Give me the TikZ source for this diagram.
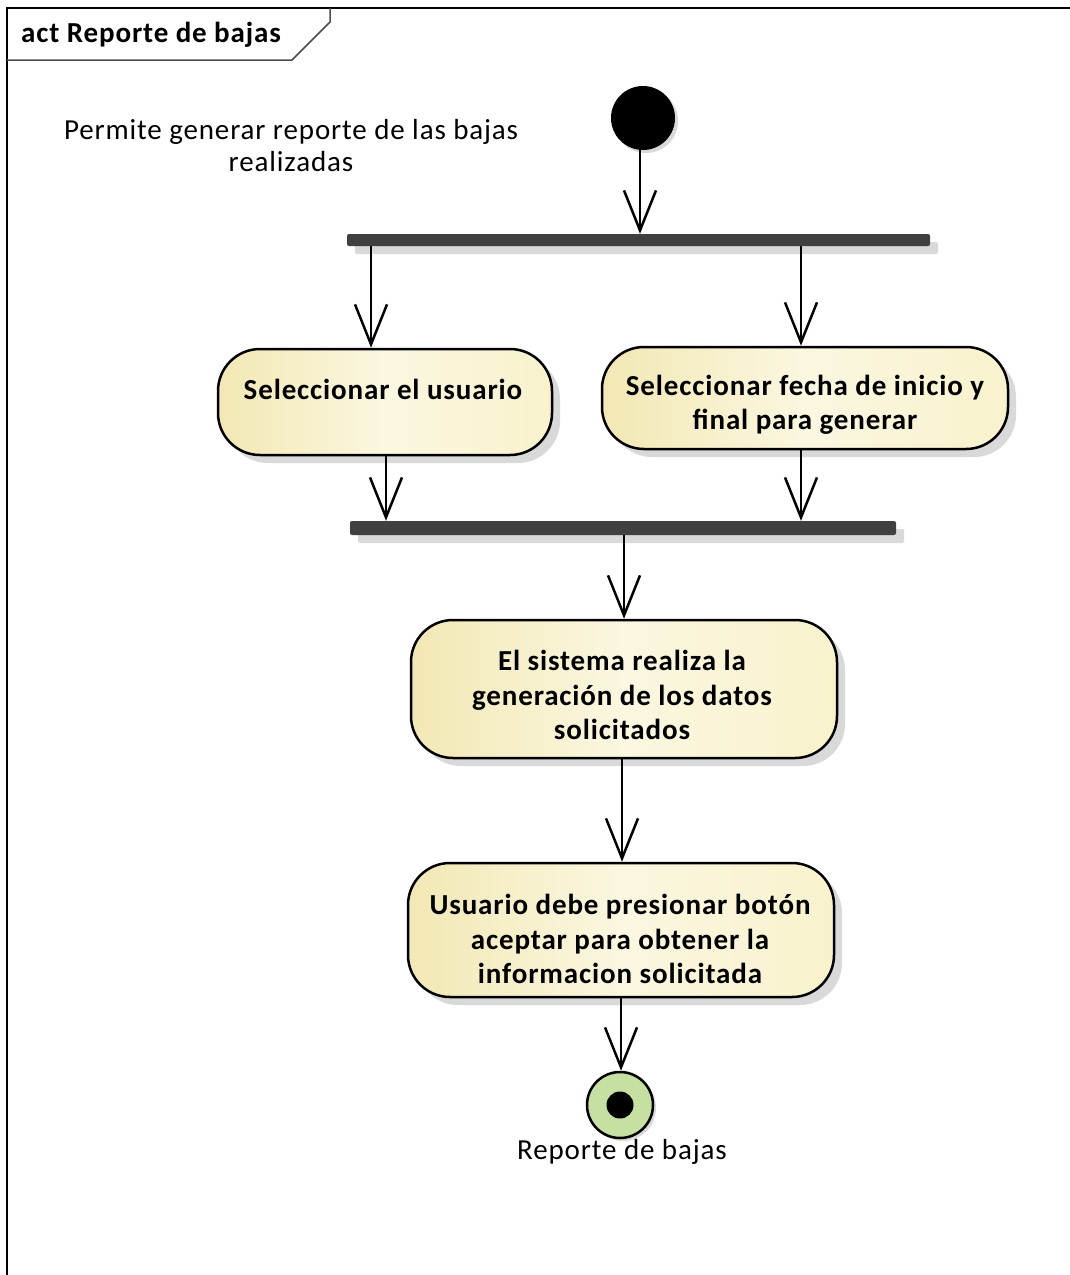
\documentclass[tikz,border=0pt]{standalone}
\usepackage{fontspec}
\setmainfont{Carlito}[LetterSpace=3]
\usetikzlibrary{arrows.meta,shadows,positioning}
\definecolor{actfill}{HTML}{F8F2CC}
\definecolor{actfillL}{HTML}{F2E8B4}
\definecolor{barcol}{HTML}{404040}
\definecolor{shadowcol}{HTML}{D9D9D9}
\definecolor{finfill}{HTML}{C5E0A0}
\tikzset{
  action/.style={draw=black, line width=2.5pt, rounded corners=42pt, left color=actfillL, right color=actfill, middle color=actfill!60!white,
    drop shadow={shadow xshift=8pt, shadow yshift=-8pt, fill=shadowcol, opacity=1}},
  actlabel/.style={align=center, inner sep=0pt, font=\fontsize{29}{34.5}\selectfont\bfseries},
  syncbar/.style={fill=barcol, draw=none, rounded corners=2pt, inner sep=0pt,
    drop shadow={shadow xshift=8pt, shadow yshift=-8pt, fill=shadowcol, opacity=1}},
  flow/.style={line width=2.5pt, -{Straight Barb[length=40pt,width=32pt,line width=2.5pt]}},
  plain/.style={font=\fontsize{29}{32}\selectfont, align=center, inner sep=0pt}
}
\begin{document}
\begin{tikzpicture}[x=1pt,y=-1pt]
\useasboundingbox (0,0) rectangle (1070,1275);
% frame
\draw[line width=2.5pt] (7,1290) -- (7,8) -- (1090,8);
\draw[line width=1.5pt, draw=black!70] (7,60) -- (292,60) -- (330,22) -- (330,8);
\node[anchor=west, font=\fontsize{29}{32}\selectfont\bfseries, inner sep=0pt] (title) at (21,35) {act Reporte de bajas};
% note
\node[plain] (note) at (291,146) {Permite generar reporte de las bajas\\realizadas};
% initial
\node[circle, fill=black, minimum size=64pt, inner sep=0pt,
  drop shadow={shadow xshift=3pt, shadow yshift=-3pt, fill=shadowcol, opacity=1}] (init) at (643,118) {};
% bars
\node[syncbar, minimum width=583pt, minimum height=12pt] (bar1) at (638.5,240) {};
\node[syncbar, minimum width=546pt, minimum height=14pt] (bar2) at (623,528) {};
% actions
\node[action, minimum width=334pt, minimum height=106pt] (a1) at (385,402) {};
\node[actlabel] (a1t) at (383,389) {Seleccionar el usuario};
\node[action, minimum width=406pt, minimum height=102pt] (a2) at (805,398) {};
\node[actlabel] (a2t) at (805,405) {Seleccionar fecha de inicio y\\final para generar};
\node[action, minimum width=426pt, minimum height=138pt] (a3) at (624,689) {};
\node[actlabel] (a3t) at (622,695) {El sistema realiza la\\generación de los datos\\solicitados};
\node[action, minimum width=426pt, minimum height=134pt] (a4) at (621,930) {};
\node[actlabel] (a4t) at (620,939) {Usuario debe presionar botón\\aceptar para obtener la\\informacion solicitada};
% final
\node[circle, draw=black, line width=2.5pt, fill=finfill, minimum size=66pt, inner sep=0pt,
  drop shadow={shadow xshift=3pt, shadow yshift=-3pt, fill=shadowcol, opacity=1}] (fin) at (620,1105) {};
\node[circle, fill=black, minimum size=27pt, inner sep=0pt] (finin) at (fin.center) {};
\node[plain] (finlbl) at (622,1152) {Reporte de bajas};
% connector coordinates
\coordinate (c1) at (371,0);
\coordinate (c2) at (801,0);
\coordinate (c3) at (386,0);
\coordinate (c4) at (624,0);
\coordinate (c5) at (622,0);
\coordinate (c6) at (621,0);
\coordinate (c0) at (640,0);
% connectors
\draw[flow] (init.south -| c0) -- (bar1.north -| c0);
\draw[flow] (bar1.south -| c1) -- (a1.north -| c1);
\draw[flow] (bar1.south -| c2) -- (a2.north -| c2);
\draw[flow] (a1.south -| c3) -- (bar2.north -| c3);
\draw[flow] (a2.south -| c2) -- (bar2.north -| c2);
\draw[flow] (bar2.south -| c4) -- (a3.north -| c4);
\draw[flow] (a3.south -| c5) -- (a4.north -| c5);
\draw[flow] (a4.south -| c6) -- (fin.north -| c6);
\end{tikzpicture}
\end{document}
